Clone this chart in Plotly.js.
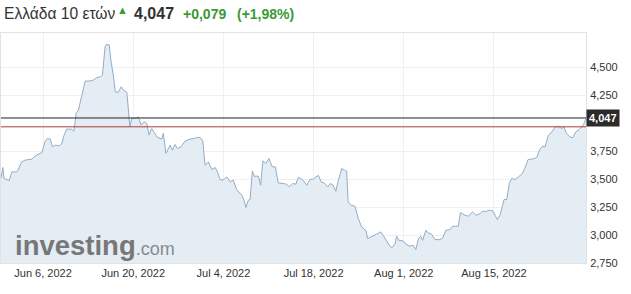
<!DOCTYPE html>
<html>
<head>
<meta charset="utf-8">
<script src="https://cdn.plot.ly/plotly-3.0.1.min.js"></script>
<style>html,body{margin:0;padding:0;background:#fff;}#chart{width:631px;height:294px;}</style>
</head>
<body>
<div id="chart"></div>
<script>
const dates = [
"2022-05-30 08:00","2022-05-30 13:00","2022-05-30 16:00","2022-05-30 23:00","2022-05-31 06:00","2022-05-31 13:00",
"2022-06-01 02:00","2022-06-01 05:00","2022-06-01 15:00","2022-06-02 00:00","2022-06-02 18:00","2022-06-03 03:00","2022-06-03 21:00",
"2022-06-06 05:00","2022-06-06 11:00","2022-06-06 19:00","2022-06-07 01:00","2022-06-07 08:00","2022-06-07 19:00",
"2022-06-08 02:00","2022-06-08 08:00","2022-06-08 15:00","2022-06-09 04:00","2022-06-09 10:00","2022-06-09 16:00","2022-06-09 22:00",
"2022-06-10 07:00","2022-06-10 16:00","2022-06-13 01:00","2022-06-13 12:00","2022-06-13 23:00","2022-06-14 08:00","2022-06-14 14:00",
"2022-06-14 21:00","2022-06-15 01:00","2022-06-15 08:00","2022-06-15 13:00","2022-06-15 19:00","2022-06-16 00:00","2022-06-16 08:00",
"2022-06-16 16:00","2022-06-16 22:00","2022-06-17 07:00","2022-06-17 15:00","2022-06-17 20:00","2022-06-20 07:00","2022-06-20 14:00",
"2022-06-20 21:00","2022-06-21 05:00","2022-06-21 12:00","2022-06-21 18:00","2022-06-22 01:00","2022-06-22 08:00","2022-06-22 15:00",
"2022-06-23 04:00","2022-06-23 08:00","2022-06-23 15:00","2022-06-24 02:00","2022-06-24 08:00","2022-06-24 15:00","2022-06-24 22:00",
"2022-06-27 07:00","2022-06-27 18:00","2022-06-28 07:00","2022-06-28 19:00","2022-06-29 01:00","2022-06-29 10:00","2022-06-29 17:00",
"2022-06-29 23:00","2022-06-30 08:00","2022-06-30 17:00","2022-07-01 02:00","2022-07-01 08:00","2022-07-01 15:00","2022-07-01 23:00",
"2022-07-04 09:00","2022-07-04 18:00","2022-07-05 02:00","2022-07-05 11:00","2022-07-06 01:00","2022-07-06 07:00","2022-07-06 12:00",
"2022-07-06 18:00","2022-07-06 23:00","2022-07-07 05:00","2022-07-07 10:00","2022-07-07 21:00","2022-07-08 03:00","2022-07-08 09:00",
"2022-07-08 17:00","2022-07-11 01:00","2022-07-11 10:00","2022-07-11 18:00","2022-07-12 02:00","2022-07-12 15:00","2022-07-13 00:00",
"2022-07-13 07:00","2022-07-13 16:00","2022-07-14 01:00","2022-07-14 07:00","2022-07-14 18:00","2022-07-15 06:00","2022-07-15 14:00",
"2022-07-15 23:00","2022-07-18 06:00","2022-07-18 13:00","2022-07-18 20:00","2022-07-19 04:00","2022-07-19 14:00","2022-07-19 20:00",
"2022-07-20 04:00","2022-07-20 11:00","2022-07-20 18:00","2022-07-21 03:00","2022-07-21 10:00","2022-07-21 16:00","2022-07-21 20:00",
"2022-07-22 04:00","2022-07-22 14:00","2022-07-22 23:00","2022-07-25 08:00","2022-07-25 19:00","2022-07-26 00:00","2022-07-26 12:00",
"2022-07-26 23:00","2022-07-27 11:00","2022-07-27 17:00","2022-07-28 02:00","2022-07-28 11:00","2022-07-28 17:00","2022-07-29 01:00",
"2022-07-29 05:00","2022-07-29 11:00","2022-07-29 23:00","2022-08-01 06:00","2022-08-01 16:00","2022-08-02 01:00","2022-08-02 08:00",
"2022-08-02 15:00","2022-08-02 21:00","2022-08-03 02:00","2022-08-03 11:00","2022-08-03 17:00","2022-08-04 02:00","2022-08-04 11:00",
"2022-08-05 00:00","2022-08-05 08:00","2022-08-05 16:00","2022-08-08 03:00","2022-08-08 10:00","2022-08-09 01:00","2022-08-09 07:00",
"2022-08-09 19:00","2022-08-10 04:00","2022-08-10 15:00","2022-08-11 00:00","2022-08-11 11:00","2022-08-11 18:00","2022-08-12 03:00",
"2022-08-12 09:00","2022-08-12 21:00","2022-08-15 03:00","2022-08-15 09:00","2022-08-15 16:00","2022-08-16 03:00","2022-08-16 10:00",
"2022-08-16 17:00","2022-08-16 23:00","2022-08-17 08:00","2022-08-17 17:00","2022-08-18 02:00","2022-08-18 10:00","2022-08-18 19:00",
"2022-08-19 09:00","2022-08-19 18:00","2022-08-22 02:00","2022-08-22 10:00","2022-08-22 16:00","2022-08-23 00:00","2022-08-23 10:00",
"2022-08-23 18:00","2022-08-24 03:00","2022-08-24 12:00","2022-08-24 18:00","2022-08-25 01:00","2022-08-25 10:00","2022-08-25 17:00",
"2022-08-26 02:00","2022-08-26 11:00","2022-08-26 17:00","2022-08-26 23:00","2022-08-29 03:00","2022-08-29 05:00"
];
const yields = [
3.508,3.604,3.506,3.499,3.488,3.565,
3.565,3.580,3.654,3.670,3.679,3.708,3.738,
3.834,3.864,3.858,3.789,3.804,3.798,
3.819,3.894,3.947,3.947,3.929,4.088,4.117,
4.252,4.377,4.377,4.383,4.407,4.415,4.431,
4.684,4.706,4.700,4.550,4.431,4.281,4.276,
4.326,4.296,4.276,3.968,4.043,4.043,4.057,
3.983,4.013,3.998,3.894,3.953,3.918,3.878,
3.858,3.909,3.730,3.804,3.759,3.810,3.774,
3.789,3.840,3.858,3.864,3.873,3.873,3.843,
3.625,3.654,3.586,3.604,3.565,3.497,3.491,
3.520,3.475,3.491,3.407,3.356,3.311,3.246,
3.311,3.318,3.574,3.526,3.526,3.446,3.663,
3.640,3.685,3.610,3.610,3.466,3.461,3.455,
3.431,3.461,3.455,3.515,3.497,3.446,3.497,
3.500,3.520,3.533,3.475,3.466,3.431,3.461,
3.446,3.392,3.491,3.595,3.580,3.571,3.296,
3.267,3.258,3.148,3.072,3.043,2.968,2.989,
3.007,3.028,2.998,2.947,2.900,2.888,2.924,
2.989,2.953,2.947,2.917,2.900,2.909,2.870,
2.968,2.989,2.953,3.043,3.019,3.007,2.959,
2.959,2.977,3.043,3.049,3.079,3.079,3.201,
3.177,3.168,3.207,3.177,3.192,3.216,3.207,
3.222,3.216,3.177,3.139,3.177,3.318,3.318,
3.461,3.506,3.497,3.520,3.544,3.595,3.676,
3.681,3.694,3.765,3.795,3.789,3.885,3.923,
3.962,3.974,3.953,3.968,3.909,3.878,3.869,
3.923,3.944,3.968,3.992,4.028,4.047
];
const lastValue = 4.047;
const prevClose = 3.968;
const xTickVals = ["2022-06-06","2022-06-20","2022-07-04","2022-07-18","2022-08-01","2022-08-15"];
const xTickText = ["Jun 6, 2022","Jun 20, 2022","Jul 4, 2022","Jul 18, 2022","Aug 1, 2022","Aug 15, 2022"];
const yTickVals = [2.75,3.0,3.25,3.5,3.75,4.25,4.5];
const yTickText = ["2,750","3,000","3,250","3,500","3,750","4,250","4,500"];
const titleText = "Ελλάδα 10 ετών";
const priceText = "4,047";
const changeText = "+0,079";
const changePctText = "(+1,98%)";

const FONT = "Liberation Sans, Arial, sans-serif";
const trace = {
  x: dates, y: yields, type: "scatter", mode: "lines",
  line: {color: "#94acc6", width: 1},
  fill: "tozeroy", fillcolor: "#e5edf4",
  hoverinfo: "skip"
};
const layout = {
  width: 631, height: 294,
  margin: {l: 1, r: 45, t: 33, b: 31},
  paper_bgcolor: "#ffffff", plot_bgcolor: "#ffffff",
  showlegend: false,
  separators: ",.",
  font: {family: FONT, size: 11, color: "#333333"},
  xaxis: {
    type: "date",
    range: ["2022-05-30 08:00", "2022-08-29 05:00"],
    rangebreaks: [{bounds: ["sat", "mon"]}],
    tickmode: "array", tickvals: xTickVals, ticktext: xTickText,
    showgrid: true, gridcolor: "#f0f0f0", gridwidth: 1,
    showline: true, linecolor: "#e2e2e2", mirror: true,
    ticks: "", zeroline: false,
    tickfont: {family: FONT, size: 11, color: "#333333"}
  },
  yaxis: {
    side: "right",
    range: [2.75, 4.807],
    tickmode: "array", tickvals: yTickVals, ticktext: yTickText,
    showgrid: true, gridcolor: "#f0f0f0", gridwidth: 1,
    showline: true, linecolor: "#e2e2e2", mirror: true,
    ticks: "", zeroline: false, ticklabelstandoff: 1,
    tickfont: {family: FONT, size: 11, color: "#333333"}
  },
  shapes: [
    {type: "line", xref: "paper", x0: 0, x1: 1, yref: "y", y0: prevClose, y1: prevClose,
     line: {color: "#b03a3a", width: 1}},
    {type: "line", xref: "paper", x0: 0, x1: 1, yref: "y", y0: lastValue, y1: lastValue,
     line: {color: "#222222", width: 1}}
  ],
  annotations: [
    {xref: "paper", yref: "y", x: 1, y: lastValue, xanchor: "left", yanchor: "middle",
     text: "<b>" + priceText + "</b>", showarrow: false,
     font: {family: FONT, size: 11, color: "#ffffff"},
     bgcolor: "#2b2b2b", borderpad: 2},
    {xref: "paper", yref: "paper", x: 0.002, y: 1.083, xanchor: "left", yanchor: "middle",
     text: titleText, showarrow: false,
     font: {family: FONT, size: 15.6, color: "#333333"}},
    {xref: "paper", yref: "paper", x: 0.2075, y: 1.1, xanchor: "center", yanchor: "middle",
     text: "▲", showarrow: false,
     font: {family: FONT, size: 11, color: "#3a9a33"}},
    {xref: "paper", yref: "paper", x: 0.224, y: 1.083, xanchor: "left", yanchor: "middle",
     text: "<b>" + priceText + "</b>", showarrow: false,
     font: {family: FONT, size: 16, color: "#333333"}},
    {xref: "paper", yref: "paper", x: 0.308, y: 1.083, xanchor: "left", yanchor: "middle",
     text: "<b>" + changeText + "</b>", showarrow: false,
     font: {family: FONT, size: 14, color: "#3a9a33"}},
    {xref: "paper", yref: "paper", x: 0.4, y: 1.083, xanchor: "left", yanchor: "middle",
     text: "<b>" + changePctText + "</b>", showarrow: false,
     font: {family: FONT, size: 14, color: "#3a9a33"}},
    {xref: "paper", yref: "paper", x: 0.02, y: 0.075, xanchor: "left", yanchor: "middle",
     text: "<b>investing</b><span style='font-size:18px;color:#8a8a8a'>.com</span>", showarrow: false,
     font: {family: FONT, size: 27.5, color: "#777777"}}
  ]
};
Plotly.newPlot("chart", [trace], layout, {displayModeBar: false, staticPlot: true});
</script>
</body>
</html>
